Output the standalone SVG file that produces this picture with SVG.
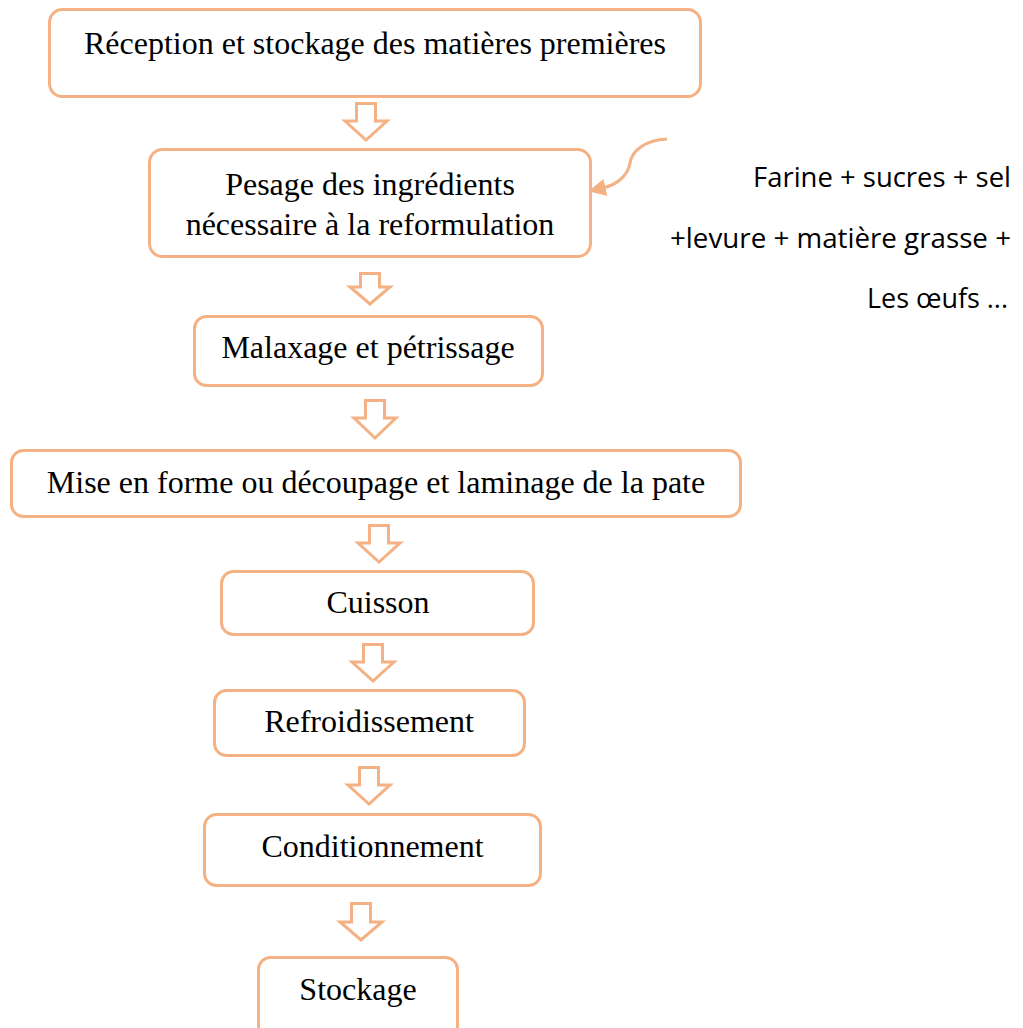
<svg xmlns="http://www.w3.org/2000/svg" width="1023" height="1028" viewBox="0 0 1023 1028">
<style>
.box{fill:#fff;stroke:#F4B183;stroke-width:3}
.arr{fill:#fff;stroke:#F4B183;stroke-width:3;stroke-linejoin:miter}
.t{font-family:"Liberation Serif","Times New Roman",serif;font-size:32px;fill:#000;text-anchor:middle}
.s{font-family:"Open Sans","Liberation Sans",sans-serif;font-size:28px;fill:#000;text-anchor:end}
</style>
<defs>
<marker id="ah" markerUnits="userSpaceOnUse" markerWidth="20" markerHeight="20" refX="2" refY="0" viewBox="0 -8 16 16" orient="auto">
<path d="M0,-7 L14,0 L0,7 z" fill="#F4B183"/>
</marker>
</defs>
<rect width="1023" height="1028" fill="#fff"/>
<g id="connectors">
<path class="arr" d="M356.5,103.5 H375.5 V121 H387 L366,140 L345,121 H356.5 Z"/>
<path class="arr" d="M360.5,273.5 H379.5 V287 H390 L370,304 L350,287 H360.5 Z"/>
<path class="arr" d="M365.5,400.5 H384.5 V418 H396 L375,438 L354,418 H365.5 Z"/>
<path class="arr" d="M369.5,525.5 H388.5 V543 H400 L379,562 L358,543 H369.5 Z"/>
<path class="arr" d="M363.5,644.5 H382.5 V662 H394 L373,681 L352,662 H363.5 Z"/>
<path class="arr" d="M359.5,767.5 H378.5 V785 H390 L369,804 L348,785 H359.5 Z"/>
<path class="arr" d="M351.5,903.5 H370.5 V922 H382 L361,940 L340,922 H351.5 Z"/>
<path d="M667,139 C646,140 632,150 630,163 C628,176 616,185 603,188" fill="none" stroke="#F4B183" stroke-width="3" marker-end="url(#ah)"/>
</g>
<g id="n1"><rect class="box" x="49.5" y="9.5" width="651" height="87" rx="13"/><text class="t" x="375" y="54">Réception et stockage des matières premières</text></g>
<g id="n2"><rect class="box" x="149.5" y="149.5" width="441" height="107" rx="13"/><text class="t" x="370" y="195">Pesage des ingrédients</text><text class="t" x="370" y="235">nécessaire à la reformulation</text></g>
<g id="n3"><rect class="box" x="194.5" y="316.5" width="348" height="69" rx="12"/><text class="t" x="368" y="358">Malaxage et pétrissage</text></g>
<g id="n4"><rect class="box" x="11.5" y="450.5" width="729" height="66" rx="12"/><text class="t" x="376" y="493">Mise en forme ou découpage et laminage de la pate</text></g>
<g id="n5"><rect class="box" x="221.5" y="571.5" width="312" height="63" rx="12"/><text class="t" x="378" y="613">Cuisson</text></g>
<g id="n6"><rect class="box" x="214.5" y="690.5" width="310" height="65" rx="12"/><text class="t" x="369" y="732">Refroidissement</text></g>
<g id="n7"><rect class="box" x="204.5" y="814.5" width="336" height="71" rx="12"/><text class="t" x="372.5" y="857">Conditionnement</text></g>
<g id="n8"><rect class="box" x="258.5" y="957.5" width="199" height="80" rx="12"/><text class="t" x="358" y="1000">Stockage</text></g>
<g id="note">
<text class="s" x="1011" y="187" textLength="258" lengthAdjust="spacingAndGlyphs">Farine + sucres + sel</text>
<text class="s" x="1011" y="248" textLength="341" lengthAdjust="spacingAndGlyphs">+levure + matière grasse +</text>
<text class="s" x="1008" y="308" textLength="141" lengthAdjust="spacingAndGlyphs">Les œufs ...</text>
</g>
</svg>
